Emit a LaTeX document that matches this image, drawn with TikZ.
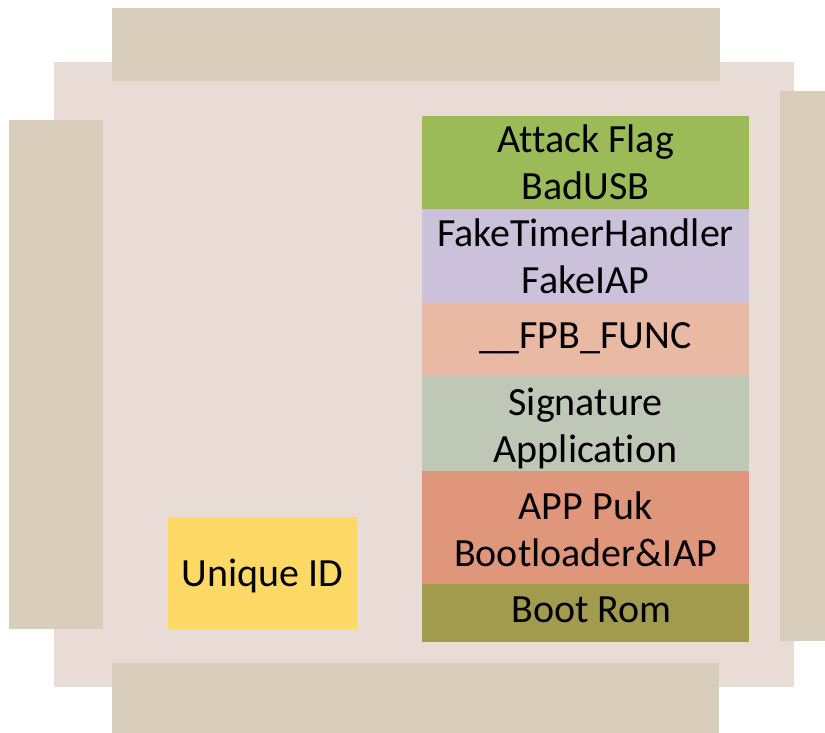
\documentclass[tikz,border=0pt]{standalone}
\usepackage{fontspec}
\setmainfont[Ligatures=NoCommon]{Carlito}
\definecolor{pin}{HTML}{D8CCBA}
\definecolor{body}{HTML}{E9DBD5}
\definecolor{cgreen}{HTML}{9BBB59}
\definecolor{clav}{HTML}{CCC1DA}
\definecolor{cfpb}{HTML}{E9B9A3}
\definecolor{csig}{HTML}{BFC7B7}
\definecolor{capp}{HTML}{E0967A}
\definecolor{crom}{HTML}{A29B4E}
\definecolor{cuid}{HTML}{FFD966}
\begin{document}
\begin{tikzpicture}[x=1bp,y=-1bp,
  blk/.style={anchor=north west,inner sep=0pt,outer sep=0pt,draw=none},
  txt/.style={inner sep=0pt,align=center,font=\fontsize{40bp}{47bp}\selectfont},
]
\useasboundingbox (0,0) rectangle (825,733);
% chip body and pins
\node[blk,fill=body,minimum width=740bp,minimum height=625bp] (body) at (54,62) {};
\node[blk,fill=pin,minimum width=608bp,minimum height=73bp] (ptop) at (112,8) {};
\node[blk,fill=pin,minimum width=607bp,minimum height=71bp] (pbot) at (112,663) {};
\node[blk,fill=pin,minimum width=94bp,minimum height=509bp] (pleft) at (9,120) {};
\node[blk,fill=pin,minimum width=46bp,minimum height=550bp] (pright) at (780,91) {};
% memory stack
\node[blk,fill=cgreen,minimum width=327bp,minimum height=93bp] (atk) at (422,116) {};
\node[blk,fill=clav,minimum width=327bp,minimum height=94bp] (fake) at (422,209) {};
\node[blk,fill=cfpb,minimum width=327bp,minimum height=72bp] (fpb) at (422,303) {};
\node[blk,fill=csig,minimum width=327bp,minimum height=96bp] (sig) at (422,375) {};
\node[blk,fill=capp,minimum width=327bp,minimum height=113bp] (app) at (422,471) {};
\node[blk,fill=crom,minimum width=327bp,minimum height=58bp] (rom) at (422,584) {};
\node[blk,fill=cuid,minimum width=189bp,minimum height=112bp] (uid) at (168,517) {};
% texts
\node[txt] (tatk) at (atk.center) {Attack Flag\\BadUSB};
\node[txt] (tfake) at (fake.center) {FakeTimerHandler\\FakeIAP};
\node[txt,yshift=1bp] (tfpb) at (fpb.center) {\_\_FPB\_FUNC};
\node[txt,yshift=-5bp] (tsig) at (sig.center) {Signature\\Application};
\node[txt,yshift=-2bp] (tapp) at (app.center) {APP Puk\\Bootloader\&IAP};
\node[txt,xshift=6bp,yshift=3bp] (trom) at (rom.center) {Boot Rom};
\node[txt,yshift=-3bp] (tuid) at (uid.center) {Unique ID};
\end{tikzpicture}
\end{document}
